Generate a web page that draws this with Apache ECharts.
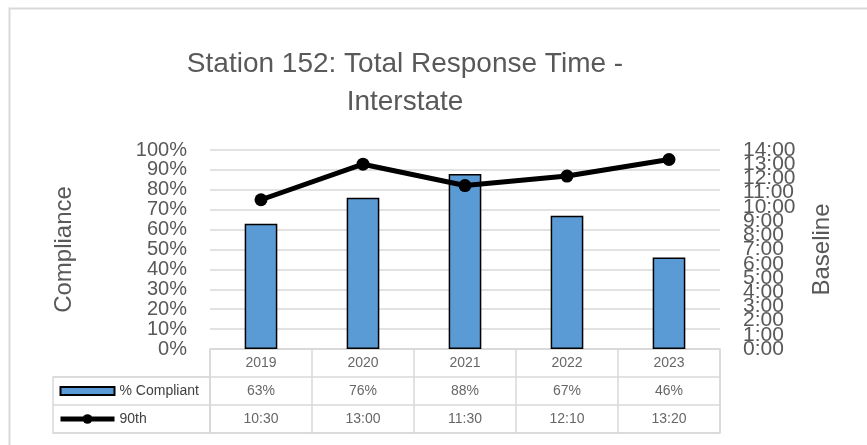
<!DOCTYPE html>
<html>
<head>
<meta charset="utf-8">
<script src="https://cdn.jsdelivr.net/npm/echarts@6/dist/echarts.min.js"></script>
<style>html,body{margin:0;padding:0;background:#fff}#c{width:867px;height:445px}</style>
</head>
<body>
<div id="c"></div>
<script>
const categories = ['2019', '2020', '2021', '2022', '2023'];
const compliantPct = [63, 76, 88, 67, 46];
const time90th = ['10:30', '13:00', '11:30', '12:10', '13:20'];
const seriesNames = ['% Compliant', '90th'];

function toHours(s) { const p = s.split(':').map(Number); return p[0] + p[1] / 60; }

const FONT = 'Liberation Sans';
const GRAY = '#595959';
const GRID_C = '#d9d9d9';

const cellLabel = { show: true, position: 'inside', fontSize: 14, color: '#404040', fontFamily: FONT };

function hourAxis(parity, withName) {
  const ax = {
    gridIndex: 0, type: 'value', position: 'right', min: 0, max: 14, interval: 1,
    axisLabel: { formatter: v => (v % 2 === parity ? v + ':00' : ''), fontSize: 21, color: GRAY, margin: 23,
      hideOverlap: false, fontFamily: FONT },
    axisLine: { show: false }, axisTick: { show: false }, splitLine: { show: false }
  };
  if (withName) {
    Object.assign(ax, { name: 'Baseline', nameLocation: 'middle', nameGap: 90,
      nameTextStyle: { fontSize: 24, color: GRAY, fontFamily: FONT } });
  }
  return ax;
}

const chart = echarts.init(document.getElementById('c'));
chart.setOption({
  backgroundColor: '#fff',
  animation: false,
  textStyle: { fontFamily: FONT },
  title: {
    text: 'Station 152: Total Response Time -\nInterstate',
    left: 400, top: 40, textAlign: 'center',
    textStyle: { fontFamily: FONT, fontSize: 28, fontWeight: 'normal', color: GRAY, lineHeight: 38 }
  },
  graphic: [{
    type: 'rect', left: 7, top: 6, silent: true,
    shape: { width: 880, height: 460 },
    style: { fill: 'none', stroke: GRID_C, lineWidth: 2 }
  }],
  legend: {
    orient: 'vertical', left: 58, top: 384, padding: 0,
    itemWidth: 54, itemHeight: 12, itemGap: 14,
    textStyle: { fontFamily: FONT, fontSize: 14, color: '#404040', lineHeight: 14 },
    data: [
      { name: seriesNames[0], icon: 'path://M0,0h54v8h-54z', symbolKeepAspect: true,
        itemStyle: { color: '#5B9BD5', borderColor: '#000', borderWidth: 2 } },
      { name: seriesNames[1], lineStyle: { width: 5, color: '#000' }, itemStyle: { color: '#000' } }
    ]
  },
  grid: [
    { left: 210, right: 147, top: 150, bottom: 96 },
    { left: 210, right: 147, top: 349, height: 84, show: true, borderColor: GRID_C, borderWidth: 1.5 },
    { left: 53, width: 157, top: 377, height: 56, show: true, borderColor: GRID_C, borderWidth: 1.5 }
  ],
  xAxis: [
    { gridIndex: 0, type: 'category', data: categories, axisLabel: { show: false }, axisTick: { show: false }, axisLine: { show: false } },
    { gridIndex: 1, type: 'category', data: categories, axisLabel: { show: false }, axisTick: { show: false }, axisLine: { show: false },
      splitLine: { show: true, interval: 0, lineStyle: { color: GRID_C, width: 1.5 } } },
    { gridIndex: 2, type: 'value', show: false }
  ],
  yAxis: [
    { gridIndex: 0, type: 'value', min: 0, max: 100, interval: 10,
      axisLabel: { formatter: '{value}%', fontSize: 20, color: GRAY, margin: 23, fontFamily: FONT },
      axisLine: { show: false }, axisTick: { show: false },
      splitLine: { lineStyle: { color: GRID_C, width: 1.5 } },
      name: 'Compliance', nameLocation: 'middle', nameGap: 134,
      nameTextStyle: { fontSize: 24, color: GRAY, fontFamily: FONT } },
    hourAxis(0, true),
    { gridIndex: 1, type: 'category', data: ['r90', 'rPct', 'rYear'],
      axisLabel: { show: false }, axisTick: { show: false }, axisLine: { show: false },
      splitLine: { show: true, interval: 0, lineStyle: { color: GRID_C, width: 1.5 } } },
    { gridIndex: 2, type: 'category', data: ['a', 'b'],
      axisLabel: { show: false }, axisTick: { show: false }, axisLine: { show: false },
      splitLine: { show: true, interval: 0, lineStyle: { color: GRID_C, width: 1.5 } } },
    hourAxis(1, false)
  ],
  series: [
    { name: seriesNames[0], type: 'bar', xAxisIndex: 0, yAxisIndex: 0, data: compliantPct, barWidth: '32%',
      itemStyle: { color: '#5B9BD5', borderColor: '#000', borderWidth: 1.5 } },
    { name: seriesNames[1], type: 'line', xAxisIndex: 0, yAxisIndex: 1, data: time90th.map(toHours),
      symbol: 'circle', symbolSize: 13, z: 5,
      lineStyle: { color: '#000', width: 5 }, itemStyle: { color: '#000' } },
    { type: 'scatter', xAxisIndex: 1, yAxisIndex: 2, silent: true, symbolSize: 1, itemStyle: { color: 'rgba(0,0,0,0)' },
      data: categories.map(c => [c, 'rYear']),
      label: Object.assign({ formatter: p => categories[p.dataIndex] }, cellLabel) },
    { type: 'scatter', xAxisIndex: 1, yAxisIndex: 2, silent: true, symbolSize: 1, itemStyle: { color: 'rgba(0,0,0,0)' },
      data: categories.map(c => [c, 'rPct']),
      label: Object.assign({ formatter: p => compliantPct[p.dataIndex] + '%' }, cellLabel) },
    { type: 'scatter', xAxisIndex: 1, yAxisIndex: 2, silent: true, symbolSize: 1, itemStyle: { color: 'rgba(0,0,0,0)' },
      data: categories.map(c => [c, 'r90']),
      label: Object.assign({ formatter: p => time90th[p.dataIndex] }, cellLabel) }
  ]
});
</script>
</body>
</html>
